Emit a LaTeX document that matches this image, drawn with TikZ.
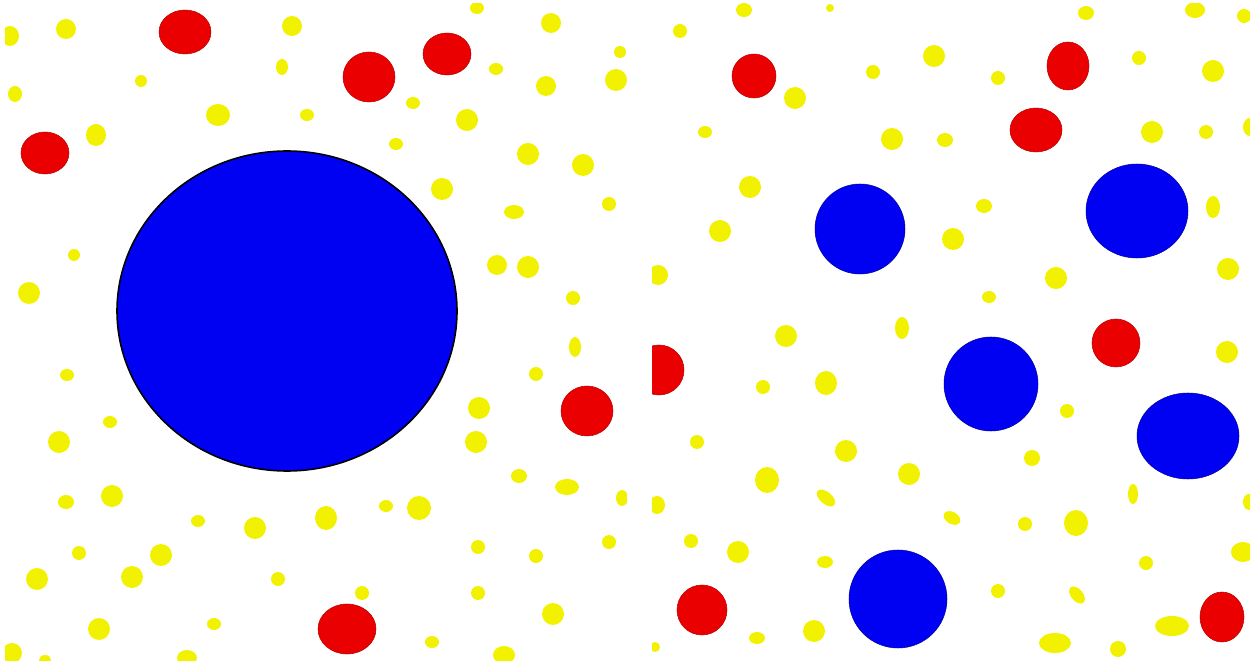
\documentclass[tikz,border=0pt]{standalone}
\usepackage{tikz}
\definecolor{dotY}{HTML}{F2F200}
\definecolor{dotR}{HTML}{EA0000}
\definecolor{dotB}{HTML}{0000F2}
\tikzset{yel/.style={fill=dotY},
  redb/.style={fill=dotR,draw=dotR!80!black,line width=0.3pt},
  blu/.style={fill=dotB,draw=dotB!65!black,line width=0.3pt},
  bigblu/.style={fill=dotB,draw=black,line width=0.9pt}}

\begin{document}
\begin{tikzpicture}[x=0.02cm,y=-0.02cm]
  \useasboundingbox (0,0) rectangle (1252,662);
  \begin{scope}
    \clip (5,4) rectangle (627,660);
    \foreach \x/\y/\a/\b in {10/36/9/10,66/29/10/10,141/81/6/6,15/94/7/8,292/26/10/10,
      282/67/6/8,218/115/12/11,307/115/7/6,96/135/10/11,74/255/6/6,29/293/11/11,
      477/8/7/6,551/23/10/10,620/52/6/6,616/80/11/11,496/69/7/6,546/86/10/10,
      413/103/7/6,467/120/11/11,396/144/7/6,528/154/11/11,583/165/11/11,442/189/11/11,
      514/212/10/7,609/204/7/7,497/265/10/10,528/267/11/11,573/298/7/7,575/347/6/10,
      67/375/7/6,110/422/7/6,59/442/11/11,66/502/8/7,112/496/11/11,198/521/7/6,
      255/528/11/11,326/518/11/12,79/553/7/7,161/555/11/11,37/579/11/11,132/577/11/11,
      278/579/7/7,99/629/11/11,214/624/7/6,12/653/10/10,45/660/6/5,187/658/10/8,
      536/374/7/7,479/408/11/11,476/442/11/11,519/476/8/7,567/487/12/8,622/498/6/8,
      386/506/7/6,419/508/12/12,478/547/7/7,536/556/7/7,609/542/7/7,362/593/7/7,
      478/593/7/7,553/614/11/11,432/642/7/6,504/655/11/9}
      \fill[yel] (\x,\y) ellipse [x radius=\a, y radius=\b];
    \foreach \x/\y/\a/\b in {185/32/26/22,369/77/26/25,447/54/24/21,45/153/24/21,
      587/411/26/25,347/629/29/25}
      \filldraw[redb] (\x,\y) ellipse [x radius=\a, y radius=\b];
    \filldraw[bigblu] (287,311) ellipse [x radius=170, y radius=160];
  \end{scope}
  \begin{scope}
    \clip (652,4) rectangle (1250,660);
    \foreach \x/\y/\a/\b in {744/10/8/7,830/8/4/4,680/31/7/7,934/56/11/11,873/72/7/7,
      795/98/11/11,705/132/7/6,892/139/11/11,945/140/8/7,750/187/11/11,720/231/11/11,
      953/239/11/11,658/275/10/10,786/336/11/11,902/328/7/11,1086/13/8/7,1195/10/10/8,
      1244/16/7/7,998/78/7/7,1139/58/7/7,1213/71/11/11,1152/132/11/11,1206/132/7/7,
      1250/127/7/9,984/206/8/7,1213/207/7/11,1056/278/11/11,1228/269/11/11,989/297/7/6,
      763/387/7/7,826/383/11/12,697/442/7/7,846/451/11/11,767/480/12/13,909/474/11/11,
      657/505/8/9,691/541/7/7,738/552/11/11,825/562/8/6,757/638/8/6,814/631/11/11,
      655/647/5/5,1227/352/11/11,1067/411/7/7,1032/458/8/8,1133/494/5/10,1249/502/6/8,
      1025/524/7/7,1076/523/12/13,1243/552/12/10,1146/563/7/7,998/591/7/7,
      1172/626/17/10,1055/643/16/10,1118/649/8/8}
      \fill[yel] (\x,\y) ellipse [x radius=\a, y radius=\b];
    \foreach \x/\y/\a/\b/\r in {826/498/11/6/-40,952/518/9/6/-30,1077/595/10/6/-50}
      \fill[yel,shift={(\x,\y)},rotate=\r] (0,0) ellipse [x radius=\a, y radius=\b];
    \foreach \x/\y/\a/\b in {754/76/22/22,1068/66/21/24,1036/130/26/22,1116/343/24/24,
      659/370/25/25,702/610/25/25,1222/617/22/25}
      \filldraw[redb] (\x,\y) ellipse [x radius=\a, y radius=\b];
    \foreach \x/\y/\a/\b in {860/229/45/45,1137/211/51/47,991/384/47/47,
      1188/436/51/43,898/599/49/49}
      \filldraw[blu] (\x,\y) ellipse [x radius=\a, y radius=\b];
  \end{scope}
\end{tikzpicture}
\end{document}
